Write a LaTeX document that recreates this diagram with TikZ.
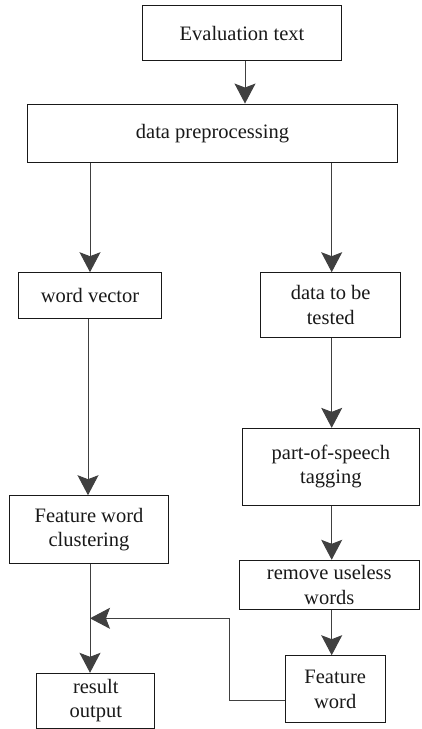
\documentclass[tikz,border=0pt]{standalone}
\usepackage{fontspec}
\setmainfont{Liberation Serif}
\usetikzlibrary{arrows.meta}
\begin{document}
\begin{tikzpicture}[x=1pt,y=-1pt,
  box/.style={draw=black!90, line width=1pt, rectangle, inner sep=0pt, align=center,
    font=\fontsize{20.5}{24.5}\selectfont, text=black!90},
  arr/.style={draw=black!75, line width=1pt, -{Stealth[length=20pt,width=21pt,inset=4pt]}},
  conn/.style={draw=black!75, line width=1pt}]
\useasboundingbox (0,0) rectangle (421,729);
\node[box, minimum width=198.6pt, minimum height=55.3pt] (eval) at (242,33.3) {Evaluation text};
\node[box, minimum width=369.6pt, minimum height=58.3pt] (prep) at (212.5,133.2) {data preprocessing};
\node[box, minimum width=143.4pt, minimum height=45.6pt] (wv) at (90,295.5) {word vector};
\node[box, minimum width=140pt, minimum height=64.6pt] (dtbt) at (330.7,305) {data to be\\tested};
\node[box, minimum width=177pt, minimum height=76.7pt] (pos) at (330.9,466.7) {part-of-speech\\tagging};
\node[box, minimum width=158.3pt, minimum height=67.6pt] (fwc) at (89,529.5) {Feature word\\clustering};
\node[box, minimum width=180.5pt, minimum height=49pt] (ruw) at (329.3,584.8) {remove useless\\words};
\node[box, minimum width=99.7pt, minimum height=67pt] (fw) at (335.2,689.2) {Feature\\word};
\node[box, minimum width=118.3pt, minimum height=55pt] (ro) at (95.8,700.8) {result\\output};
\coordinate (bend) at (229.3,618.3);
\coordinate (j) at (90,618.3);
\draw[arr] ([xshift=3pt]eval.south) -- ([xshift=3pt]eval.south |- prep.north);
\draw[arr] (prep.south -| wv.north) -- (wv.north);
\draw[arr] ([xshift=1pt]prep.south -| dtbt.north) -- ([xshift=1pt]dtbt.north);
\draw[arr] ([xshift=-2pt]wv.south) -- ([xshift=-2pt]wv.south |- fwc.north);
\draw[arr] ([xshift=1pt]dtbt.south) -- ([xshift=1pt]dtbt.south |- pos.north);
\draw[arr] ([xshift=1pt]dtbt.south |- pos.south) -- ([xshift=1pt]dtbt.south |- ruw.north);
\draw[arr] ([xshift=1pt]dtbt.south |- ruw.south) -- ([xshift=1pt]dtbt.south |- fw.north);
\draw[arr] (j |- fwc.south) -- (j |- ro.north);
\draw[conn] ([yshift=-11.5pt]fw.west) -| (bend);
\draw[arr] (bend) -- (j);
\end{tikzpicture}
\end{document}
